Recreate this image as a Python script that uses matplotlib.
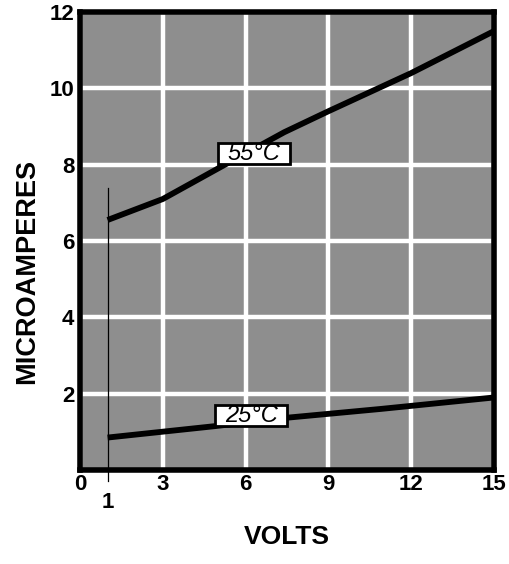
import matplotlib.pyplot as plt
from matplotlib.patches import Rectangle

# curves
volts_55 = [1, 3, 5, 7.4, 9, 12, 15]
micro_55 = [6.55, 7.1, 7.9, 8.85, 9.4, 10.4, 11.5]
volts_25 = [1, 4.9, 7.5, 10.9, 15]
micro_25 = [0.85, 1.15, 1.37, 1.6, 1.9]

x_ticks = [0, 3, 6, 9, 12, 15]
y_ticks = [2, 4, 6, 8, 10, 12]
marker_volt = 1
marker_top = 7.4

labels = ["55°C", "25°C"]
label_pos = [(6.3, 8.3), (6.2, 1.42)]

plt.rcParams['font.family'] = ['Liberation Sans', 'DejaVu Sans']

W, H = 509, 564
left, right, top, bottom = 80, 494, 12, 470
fig = plt.figure(figsize=(W / 100, H / 100), dpi=100)
ax = fig.add_axes([left / W, 1 - bottom / H, (right - left) / W, (bottom - top) / H])
ax.set_xlim(0, 15)
ax.set_ylim(0, 12)
ax.set_facecolor('#8e8e8e')

ax.set_xticks(x_ticks)
ax.set_yticks(y_ticks)
ax.grid(True, color='white', linewidth=3.2)
ax.set_axisbelow(True)
ax.tick_params(length=0, labelsize=16)
ax.tick_params(axis='x', pad=3)
ax.tick_params(axis='y', pad=4)
for lab in ax.get_xticklabels() + ax.get_yticklabels():
    lab.set_fontweight('bold')
for sp in ax.spines.values():
    sp.set_linewidth(4)
    sp.set_zorder(5)

ax.plot(volts_55, micro_55, color='black', linewidth=4.2, solid_capstyle='butt', zorder=3)
ax.plot(volts_25, micro_25, color='black', linewidth=4.2, solid_capstyle='butt', zorder=3)

# thin marker line at 1 volt, running past the axis
ax.plot([marker_volt, marker_volt], [marker_top, -0.3], color='black',
        linewidth=0.9, clip_on=False, zorder=6)
ax.text(marker_volt, -0.85, "1", ha='center', va='center', fontsize=16,
        fontweight='bold')

# boxed temperature labels
box_w, box_h = 2.6, 0.56
for txt, (x, y) in zip(labels, label_pos):
    ax.add_patch(Rectangle((x - box_w / 2, y - box_h / 2), box_w, box_h,
                           facecolor='white', edgecolor='black', linewidth=2,
                           zorder=4))
    ax.text(x, y, txt, ha='center', va='center', fontsize=17, fontstyle='italic',
            zorder=4.5)

ax.set_xlabel("VOLTS", fontsize=19, fontweight='bold', va='center')
ax.xaxis.set_label_coords(0.5, -(537 - bottom) / (bottom - top))
ax.set_ylabel("MICROAMPERES", fontsize=19.5, fontweight='bold', va='center')
ax.yaxis.set_label_coords(-(left - 27) / (right - left), (bottom - 272) / (bottom - top))

fig.savefig("out.png", dpi=100)
